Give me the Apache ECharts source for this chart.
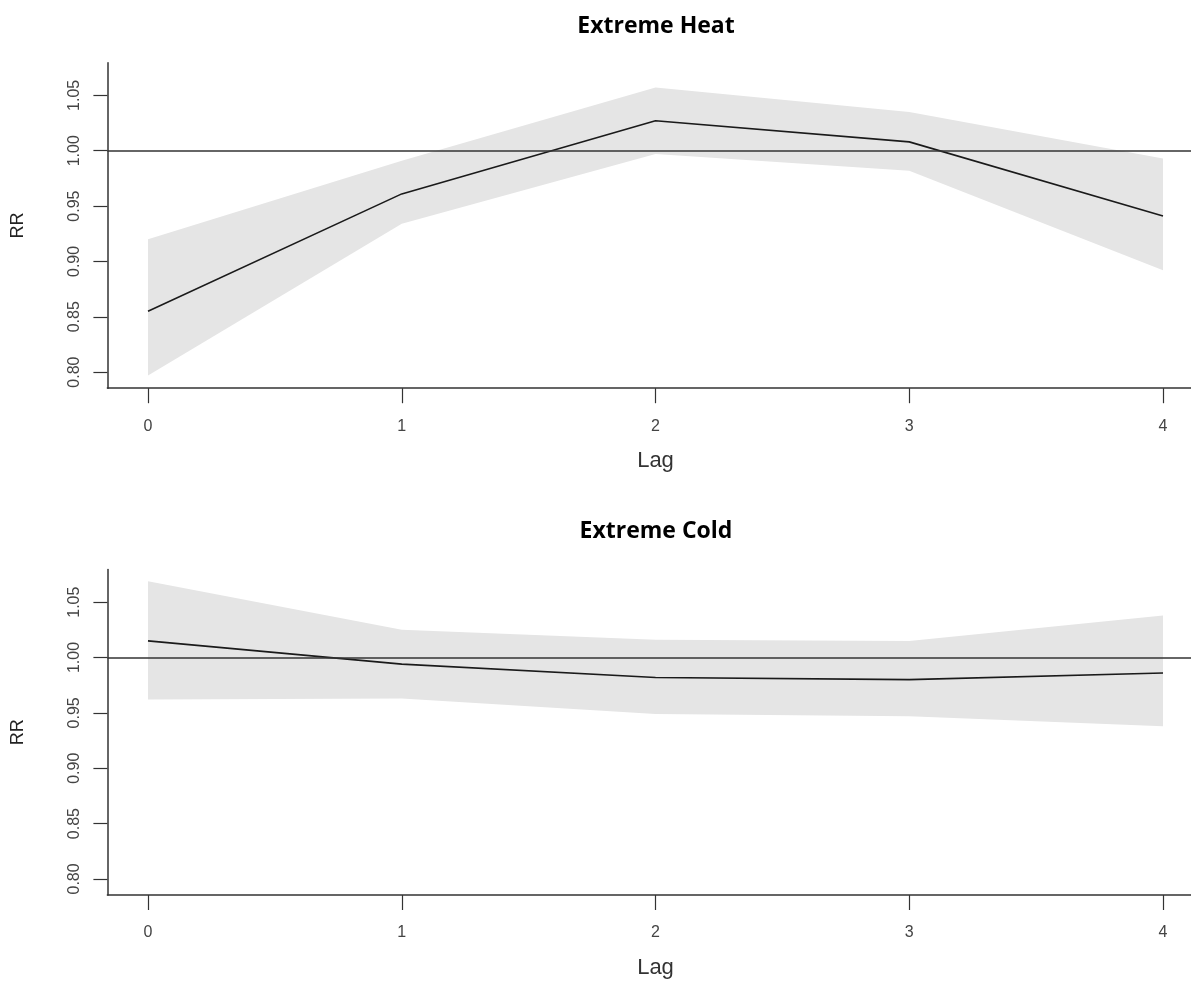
<!DOCTYPE html>
<html>
<head>
<meta charset="utf-8">
<script src="https://cdn.jsdelivr.net/npm/echarts@6/dist/echarts.min.js"></script>
<style>html,body{margin:0;padding:0;background:#fff}#c{width:1191px;height:982px}</style>
</head>
<body>
<div id="c"></div>
<script>
// ---- data ----
const lags = [0, 1, 2, 3, 4];
const yTicks = [0.80, 0.85, 0.90, 0.95, 1.00, 1.05];
const xTicks = [0, 1, 2, 3, 4];

const heatRR   = [0.855, 0.961, 1.027, 1.008, 0.941];
const heatLow  = [0.797, 0.934, 0.997, 0.982, 0.892];
const heatHigh = [0.920, 0.991, 1.057, 1.035, 0.993];

const coldRR   = [1.015, 0.994, 0.982, 0.980, 0.986];
const coldLow  = [0.962, 0.963, 0.949, 0.947, 0.938];
const coldHigh = [1.069, 1.025, 1.016, 1.015, 1.038];

const titles = ['Extreme Heat', 'Extreme Cold'];
const refValue = 1.00;

// ---- chart ----
const chart = echarts.init(document.getElementById('c'), null, {renderer: 'canvas'});
const FONT = 'Liberation Sans, Arial, sans-serif';
const AX = '#333';

const grids = [
  {left: 107.4, top: 62.7, width: 1096.2, height: 325.5},
  {left: 107.4, top: 569.5, width: 1096.2, height: 325.5}
];

function xAxisFor(i) {
  return {
    type: 'value', gridIndex: i, min: -0.16, max: 4.16,
    name: 'Lag', nameLocation: 'middle', nameGap: 62,
    nameTextStyle: {fontFamily: FONT, fontSize: 22, color: '#333'},
    axisLine: {show: true, onZero: false, lineStyle: {color: AX, width: 1.5}},
    axisTick: {show: true, length: 15, customValues: xTicks, lineStyle: {color: AX, width: 1.2}},
    axisLabel: {show: true, customValues: xTicks, margin: 30, fontFamily: FONT, fontSize: 16, color: '#444',
      formatter: v => String(v)},
    splitLine: {show: false}
  };
}
function yAxisFor(i) {
  return {
    type: 'value', gridIndex: i, min: 0.7855, max: 1.0795,
    name: 'RR', nameLocation: 'middle', nameGap: 80, nameRotate: 90,
    nameTextStyle: {fontFamily: FONT, fontSize: 18, color: '#222'},
    axisLine: {show: true, onZero: false, lineStyle: {color: AX, width: 1.5}},
    axisTick: {show: true, length: 14, customValues: yTicks, lineStyle: {color: AX, width: 1.2}},
    axisLabel: {show: true, customValues: yTicks, rotate: 90, margin: 25, fontFamily: FONT, fontSize: 16, color: '#444',
      formatter: v => v.toFixed(2)},
    splitLine: {show: false}
  };
}

function bandSeries(i, low, high) {
  return {
    type: 'custom', xAxisIndex: i, yAxisIndex: i, silent: true, z: 1,
    data: [0],
    renderItem: function (params, api) {
      const pts = [];
      for (let k = 0; k < lags.length; k++) pts.push(api.coord([lags[k], high[k]]));
      for (let k = lags.length - 1; k >= 0; k--) pts.push(api.coord([lags[k], low[k]]));
      return {type: 'polygon', shape: {points: pts}, style: {fill: '#e5e5e5', stroke: null}};
    }
  };
}
function lineSeries(i, vals) {
  return {
    type: 'line', xAxisIndex: i, yAxisIndex: i, z: 3,
    data: lags.map((l, k) => [l, vals[k]]),
    showSymbol: false, symbol: 'none', silent: true,
    lineStyle: {color: '#1a1a1a', width: 1.6},
    markLine: {
      silent: true, symbol: 'none', animation: false,
      label: {show: false},
      lineStyle: {color: '#333', width: 1.6, type: 'solid'},
      data: [{yAxis: refValue}]
    }
  };
}

chart.setOption({
  animation: false,
  backgroundColor: '#fff',
  grid: grids.map(g => Object.assign({outerBoundsMode: 'none', containLabel: false}, g)),
  xAxis: [xAxisFor(0), xAxisFor(1)],
  yAxis: [yAxisFor(0), yAxisFor(1)],
  series: [
    bandSeries(0, heatLow, heatHigh), lineSeries(0, heatRR),
    bandSeries(1, coldLow, coldHigh), lineSeries(1, coldRR)
  ],
  graphic: [
    {type: 'text', x: 656, y: 26, style: {text: titles[0], align: 'center', verticalAlign: 'middle',
      font: 'bold 23px "Open Sans", Lato, sans-serif', fill: '#000'}},
    {type: 'text', x: 656, y: 531, style: {text: titles[1], align: 'center', verticalAlign: 'middle',
      font: 'bold 23px "Open Sans", Lato, sans-serif', fill: '#000'}}
  ]
});
</script>
</body>
</html>
